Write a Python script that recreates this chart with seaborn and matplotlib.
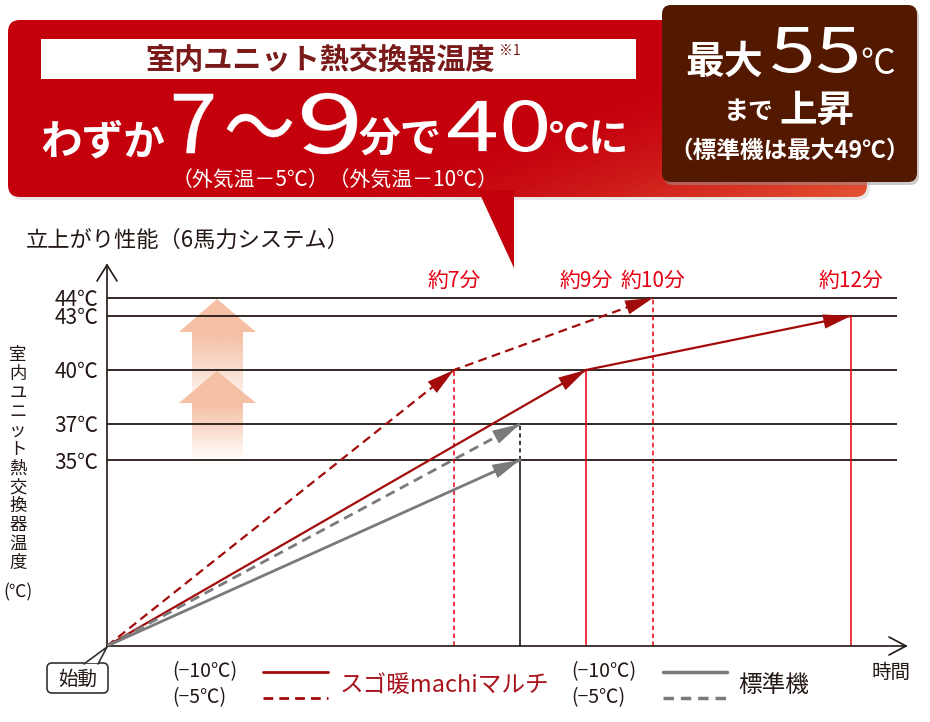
import numpy as np
import pandas as pd
import matplotlib
matplotlib.use('Agg')
import matplotlib.pyplot as plt
from matplotlib.patches import FancyBboxPatch, Polygon, PathPatch
from matplotlib.textpath import TextPath
from matplotlib.font_manager import FontProperties
import matplotlib.transforms as mtransforms
import seaborn as sns

# ---- chart data (schematic time axis) ----
start_temp = 24.67
temp_levels = [35, 37, 40, 43, 44]
temp_labels = ['35℃', '37℃', '40℃', '43℃', '44℃']

t_pos = [6.94, 9.58, 10.92, 14.88]
t_labels = ['約7分', '約9分', '約10分', '約12分']
t_reach = [40, 40, 44, 43]
t_solid = [False, True, False, True]

std_t = 8.26

sugo_m10_t = [0, 9.58, 14.88]
sugo_m10_temp = [start_temp, 40, 43]
sugo_m5_t = [0, 6.94, 10.92]
sugo_m5_temp = [start_temp, 40, 44]
std_m10_t = [0, std_t]
std_m10_temp = [start_temp, 35]
std_m5_t = [0, std_t]
std_m5_temp = [start_temp, 37]

DARK = '#231815'
RED_LINE = '#a30b0b'
RED_V = '#e60012'
GREY = '#7a7a7a'
PEACH = np.array([245, 192, 164]) / 255

sns.set_theme(style='white')
plt.rcParams['font.family'] = ['Noto Sans CJK JP', 'DejaVu Sans']

fig = plt.figure(figsize=(9.3, 7.22), dpi=100)
W, H = 930, 722

# overlay axes in pixel coordinates for decoration
ov = fig.add_axes([0, 0, 1, 1], zorder=0)
ov.set_xlim(0, W)
ov.set_ylim(H, 0)
ov.axis('off')

# main plot axes: pixel box x 107..906, y 265..646
ax = fig.add_axes([107 / W, (H - 646) / H, 799 / W, 381 / H], zorder=1)
ax.set_facecolor('none')

# ---------- peach arrows (behind the grid) ----------
def peach_arrow(tip, head_base, bottom, fade_start, fade_end, alpha_end):
    cx = 217
    poly = Polygon([(cx, tip), (256, head_base), (243, head_base), (243, bottom),
                    (192, bottom), (192, head_base), (179, head_base)],
                   closed=True, facecolor='none', edgecolor='none')
    ov.add_patch(poly)
    ys = np.linspace(tip, bottom, 200)
    a = np.interp(ys, [tip, fade_start, fade_end], [1, 1, alpha_end])
    img = np.zeros((200, 1, 4))
    img[:, 0, :3] = PEACH
    img[:, 0, 3] = a
    im = ov.imshow(img, extent=[179, 256, bottom, tip], origin='upper',
                   aspect='auto', interpolation='bilinear', zorder=1)
    im.set_clip_path(poly)

peach_arrow(299, 332, 400, 335, 398, 0.15)
peach_arrow(371, 403, 458, 405, 458, 0.05)

# ---------- lines ----------
rows = []
for name, ts, vs in [('sugo_m10', sugo_m10_t, sugo_m10_temp),
                     ('sugo_m5', sugo_m5_t, sugo_m5_temp),
                     ('std_m10', std_m10_t, std_m10_temp),
                     ('std_m5', std_m5_t, std_m5_temp)]:
    for t, v in zip(ts, vs):
        rows.append((name, t, v))
df = pd.DataFrame(rows, columns=['series', 't', 'temp'])

# gridlines
ax.hlines(temp_levels, 0, 15.8, color=DARK, lw=1.3, zorder=1)

# vertical markers
for t, top, solid in zip(t_pos, t_reach, t_solid):
    ax.vlines(t, start_temp, top, color=RED_V, lw=1.1, zorder=2,
              linestyles='solid' if solid else (0, (3, 2.2)))
ax.vlines(std_t, start_temp, 35, color=DARK, lw=1.2, zorder=2)
ax.vlines(std_t, 35, 37, color=DARK, lw=1.2, zorder=2, linestyles=(0, (2.5, 2)))

palette = {'sugo_m10': RED_LINE, 'sugo_m5': RED_LINE, 'std_m10': GREY, 'std_m5': GREY}
dashes = {'sugo_m10': '', 'sugo_m5': (4, 2.4), 'std_m10': '', 'std_m5': (3.5, 2.2)}
sns.lineplot(data=df, x='t', y='temp', hue='series', style='series',
             palette=palette, dashes=dashes, sort=False, estimator=None,
             legend=False, ax=ax, linewidth=1.6, zorder=3)
for l in ax.get_lines():
    if l.get_color() == GREY:
        l.set_linewidth(2.0)

def heads(ts, vs, color):
    for i in range(1, len(ts)):
        p0 = (ts[i - 1], vs[i - 1])
        p1 = (ts[i], vs[i])
        back = (p0[0] + 0.5 * (p1[0] - p0[0]), p0[1] + 0.5 * (p1[1] - p0[1]))
        ax.annotate('', xy=p1, xytext=back,
                    arrowprops=dict(arrowstyle='-|>,head_length=1.0,head_width=0.26',
                                    color=color, lw=0, shrinkA=0, shrinkB=0,
                                    mutation_scale=20), zorder=4)

heads(sugo_m10_t, sugo_m10_temp, RED_LINE)
heads(sugo_m5_t, sugo_m5_temp, RED_LINE)
heads(std_m10_t, std_m10_temp, GREY)
heads(std_m5_t, std_m5_temp, GREY)

# time labels
trans = mtransforms.blended_transform_factory(ax.transData, ax.transAxes)
for t, lab in zip(t_pos, t_labels):
    ax.text(t, 0.958, lab, transform=trans, ha='center', va='center',
            color=RED_V, fontsize=15)

ax.set_xlim(0, 15.98)
ax.set_ylim(start_temp, 45.83)
ax.set_xticks([])
ax.set_yticks(temp_levels)
ax.set_yticklabels(temp_labels, fontsize=15, color=DARK)
ax.tick_params(axis='y', length=0, pad=6)
ax.set_xlabel('')
ax.set_ylabel('')
for s in ['top', 'right']:
    ax.spines[s].set_visible(False)
for s in ['left', 'bottom']:
    ax.spines[s].set_color(DARK)
    ax.spines[s].set_linewidth(1.2)

# axis arrow chevrons
ov.plot([97, 107, 117], [281, 265, 281], color=DARK, lw=1.2, zorder=5)
ov.plot([889, 906, 889], [637, 646, 655], color=DARK, lw=1.2, zorder=5)

# ---------- banner ----------
ov.add_patch(FancyBboxPatch((10, 24), 860, 176, boxstyle='round,pad=0,rounding_size=12',
                            facecolor='#d8d8d8', edgecolor='none', alpha=0.6, zorder=1))
banner = FancyBboxPatch((8, 20), 859, 177, boxstyle='round,pad=0,rounding_size=12',
                        facecolor='none', edgecolor='none', zorder=2)
ov.add_patch(banner)
gx, gy = np.meshgrid(np.linspace(8, 867, 300), np.linspace(20, 197, 80))
s = np.clip(((gx - 600) / 267 + (gy - 100) / 97) / 2, 0, 1) ** 1.5
c0 = np.array([0.77, 0.0, 0.05])
c1 = np.array([0.89, 0.33, 0.2])
gimg = c0[None, None, :] * (1 - s[..., None]) + c1[None, None, :] * s[..., None]
bim = ov.imshow(gimg, extent=[8, 867, 197, 20], origin='upper', aspect='auto', zorder=2)
bim.set_clip_path(banner)
ov.add_patch(Polygon([(478, 190), (514, 190), (514, 268)], closed=True,
                     facecolor='#c4000d', edgecolor='none', zorder=2))

ov.add_patch(FancyBboxPatch((41, 39), 595, 40, boxstyle='square,pad=0',
                            facecolor='white', edgecolor='none', zorder=3))
ov.text(320, 60, '室内ユニット熱交換器温度', ha='center', va='center',
        fontsize=21, color='#7a1a1a', fontweight='bold', zorder=4)
ov.text(499, 51, '※1', ha='left', va='center', fontsize=10, color='#7a1a1a', zorder=4)

# big numerals: glyph outlines stretched to the box they take in the picture
big_fp = FontProperties(family='Noto Sans CJK JP')

def fitted_text(s, x0, x1, ytop, ybot, lw=0.0, z=4):
    path = TextPath((0, 0), s, size=100, prop=big_fp)
    bb = path.get_extents()
    sx = (x1 - x0) / bb.width
    sy = (ybot - ytop) / bb.height
    tr = (mtransforms.Affine2D().translate(-bb.x0, -bb.y0).scale(sx, -sy)
          .translate(x0, ybot) + ov.transData)
    ov.add_patch(PathPatch(path, facecolor='white', edgecolor='white', lw=lw,
                           transform=tr, zorder=z))

ov.text(40, 154, 'わずか', ha='left', va='baseline', fontsize=30, color='white',
        fontweight='bold', zorder=4)
fitted_text('7', 174, 213, 94, 153, lw=0.4)
fitted_text('〜', 227, 292, 114, 137, lw=0.4)
fitted_text('9', 302, 357, 93, 154, lw=0.2)
ov.text(359, 153, '分で', ha='left', va='baseline', fontsize=30, color='white',
        fontweight='bold', zorder=4)
fitted_text('40', 448, 547, 100, 152)
ov.text(549, 153, '℃に', ha='left', va='baseline', fontsize=29, color='white',
        fontweight='bold', zorder=4)
ov.text(335, 180, '（外気温－5℃）（外気温－10℃）', ha='center', va='center',
        fontsize=15, color='white', zorder=4)

# brown box
ov.add_patch(FancyBboxPatch((664, 8), 255, 177, boxstyle='round,pad=0,rounding_size=9',
                            facecolor='#999999', edgecolor='none', alpha=0.5, zorder=4))
ov.add_patch(FancyBboxPatch((662, 5), 255, 177, boxstyle='round,pad=0,rounding_size=9',
                            facecolor='#521900', edgecolor='none', zorder=5))
ov.text(685, 74, '最大', ha='left', va='baseline', fontsize=28, color='white',
        fontweight='bold', zorder=6)
fitted_text('55', 772, 857, 27, 73, z=6)
ov.text(860, 74, '℃', ha='left', va='baseline', fontsize=25, color='white', zorder=6)
ov.text(724, 119, 'まで', ha='left', va='baseline', fontsize=18, color='white',
        fontweight='bold', zorder=6)
ov.text(779, 122, '上昇', ha='left', va='baseline', fontsize=27, color='white',
        fontweight='bold', zorder=6)
ov.text(790, 151, '（標準機は最大49℃）', ha='center', va='center', fontsize=17,
        color='white', fontweight='bold', zorder=6)

# ---------- chart titles ----------
ov.text(26, 240, '立上がり性能（6馬力システム）', ha='left', va='center',
        fontsize=16, color=DARK, zorder=5)
ylab = '室内ユニット熱交換器温度'
for i, ch in enumerate(ylab):
    ov.text(18, 355 + i * 18.9, ch, ha='center', va='center', fontsize=12.5,
            color=DARK, zorder=5)
ov.text(18, 592, '(℃)', ha='center', va='center', fontsize=12.5, color=DARK, zorder=5)

# ---------- start label ----------
ov.add_patch(FancyBboxPatch((47, 663), 61, 30, boxstyle='round,pad=0,rounding_size=5',
                            facecolor='white', edgecolor='#333333', lw=1.2, zorder=5))
ov.add_patch(Polygon([(84, 663), (98, 663), (107, 647)], closed=True,
                     facecolor='white', edgecolor='none', zorder=6))
ov.plot([84, 107, 98], [664, 647, 664], color='#333333', lw=1.2, zorder=6)
ov.text(77.5, 679, '始動', ha='center', va='center', fontsize=14, color=DARK, zorder=7)

# ---------- legend ----------
ov.text(172, 672, '(−10℃)', ha='left', va='center', fontsize=14, color=DARK, zorder=5)
ov.text(172, 698, '(−5℃)', ha='left', va='center', fontsize=14, color=DARK, zorder=5)
ov.plot([263, 328], [672, 672], color=RED_LINE, lw=2.0, zorder=5)
ov.plot([263, 328], [698, 698], color=RED_LINE, lw=2.0, ls=(0, (3.5, 2.2)), zorder=5)
ov.text(340, 686, 'スゴ暖machiマルチ', ha='left', va='center', fontsize=17,
        color='#a8131c', zorder=5)
ov.text(571, 672, '(−10℃)', ha='left', va='center', fontsize=14, color=DARK, zorder=5)
ov.text(571, 698, '(−5℃)', ha='left', va='center', fontsize=14, color=DARK, zorder=5)
ov.plot([663, 727], [672, 672], color=GREY, lw=2.5, zorder=5)
ov.plot([663, 727], [698, 698], color=GREY, lw=2.5, ls=(0, (3, 2)), zorder=5)
ov.text(738, 686, '標準機', ha='left', va='center', fontsize=17, color=DARK, zorder=5)
ov.text(891, 672, '時間', ha='center', va='center', fontsize=14, color=DARK, zorder=5)

ov.set_xlim(0, W)
ov.set_ylim(H, 0)

fig.savefig('out.png', dpi=100, facecolor='white')
